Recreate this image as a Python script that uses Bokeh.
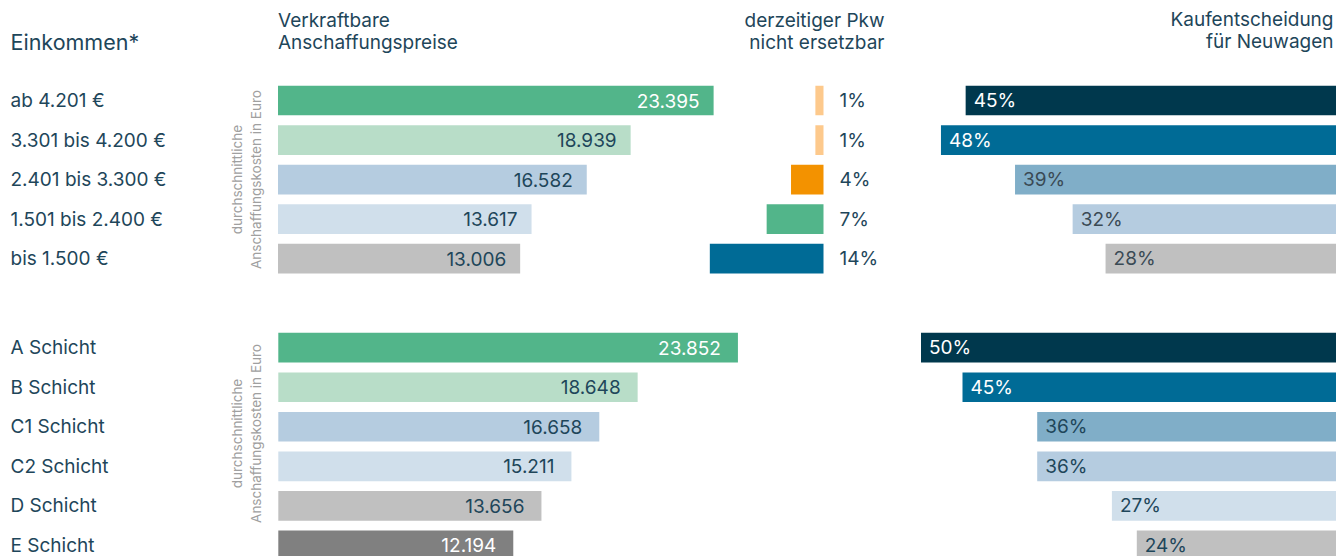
from bokeh.plotting import figure
from bokeh.models import ColumnDataSource, Range1d
from bokeh.core.properties import value
from bokeh.embed import file_html
from bokeh.resources import INLINE
import math

# ---------------- data ----------------
income_labels = ["ab 4.201 €", "3.301 bis 4.200 €", "2.401 bis 3.300 €", "1.501 bis 2.400 €", "bis 1.500 €"]
income_price = [23395, 18939, 16582, 13617, 13006]
income_price_text = ["23.395", "18.939", "16.582", "13.617", "13.006"]
income_pkw = [1, 1, 4, 7, 14]
income_kauf = [45, 48, 39, 32, 28]

layer_labels = ["A Schicht", "B Schicht", "C1 Schicht", "C2 Schicht", "D Schicht", "E Schicht"]
layer_price = [23852, 18648, 16658, 15211, 13656, 12194]
layer_price_text = ["23.852", "18.648", "16.658", "15.211", "13.656", "12.194"]
layer_kauf = [50, 45, 36, 36, 27, 24]

# ---------------- styles ----------------
FONT = value("Inter")
FS = "19px"
TXT = "#1e465a"
GREEN, LGREEN, BGRAY, PALE, GRAY, DGRAY = "#52b58a", "#b8ddc8", "#b5cce0", "#d0dfeb", "#c0c0c0", "#808080"
NAVY, BLUE, MBLUE = "#00384d", "#006b96", "#80aec8"
LORANGE, ORANGE = "#fdc98c", "#f39200"

income_price_colors = [GREEN, LGREEN, BGRAY, PALE, GRAY]
income_price_tcolors = ["white", TXT, TXT, TXT, TXT]
layer_price_colors = [GREEN, LGREEN, BGRAY, PALE, GRAY, DGRAY]
layer_price_tcolors = ["white", TXT, TXT, TXT, TXT, "white"]
pkw_colors = [LORANGE, LORANGE, ORANGE, GREEN, BLUE]
income_kauf_colors = [NAVY, BLUE, MBLUE, BGRAY, GRAY]
income_kauf_tcolors = ["white", "white", "#3a4a55", "#3a4a55", "#3a4a55"]
layer_kauf_colors = [NAVY, BLUE, MBLUE, BGRAY, PALE, GRAY]
layer_kauf_tcolors = ["white", "white", TXT, TXT, TXT, TXT]

# ---------------- layout ----------------
W, H = 1336, 556
ROW0_PX, PITCH = 100.0, 39.55
GROUP2_START = 6.25
BAR_H = 0.75


def py(px):
    return (px - ROW0_PX) / PITCH


p = figure(width=W, height=H, output_backend="svg", toolbar_location=None,
           x_axis_type=None, y_axis_type=None, min_border=0,
           x_range=Range1d(0, W), y_range=Range1d(py(H), py(0)),
           outline_line_color=None, background_fill_color="white")


def lin_range(origin_px, px_per_unit, reverse=False):
    if reverse:
        return Range1d(origin_px / px_per_unit, -(W - origin_px) / px_per_unit)
    return Range1d(-origin_px / px_per_unit, (W - origin_px) / px_per_unit)


p.extra_x_ranges = {
    "price1": lin_range(277.5, 0.01862),
    "price2": lin_range(277.8, 0.01927),
    "pkw": lin_range(823.0, 8.12, reverse=True),
    "kauf1": lin_range(1335.5, 8.23, reverse=True),
    "kauf2": lin_range(1335.5, 8.30, reverse=True),
}

y1 = [float(i) for i in range(len(income_labels))]
y2 = [GROUP2_START + i for i in range(len(layer_labels))]

s_inc = ColumnDataSource(dict(y=y1, label=income_labels, price=income_price, ptext=income_price_text,
                              pcol=income_price_colors, ptcol=income_price_tcolors,
                              pkw=income_pkw, pkwtext=[f"{v}%" for v in income_pkw], pkwcol=pkw_colors,
                              kauf=income_kauf, ktext=[f"{v}%" for v in income_kauf],
                              kcol=income_kauf_colors, ktcol=income_kauf_tcolors))
s_lay = ColumnDataSource(dict(y=y2, label=layer_labels, price=layer_price, ptext=layer_price_text,
                              pcol=layer_price_colors, ptcol=layer_price_tcolors,
                              kauf=layer_kauf, ktext=[f"{v}%" for v in layer_kauf],
                              kcol=layer_kauf_colors, ktcol=layer_kauf_tcolors))

# price bars
for src, rn, off in ((s_inc, "price1", -14), (s_lay, "price2", -17)):
    p.hbar(y="y", left=0, right="price", height=BAR_H, fill_color="pcol", line_color=None,
           x_range_name=rn, source=src)
    p.text(x="price", y="y", text="ptext", x_range_name=rn, source=src, x_offset=off,
           text_align="right", text_baseline="middle", text_font=FONT, text_font_size=FS,
           text_color="ptcol")

# pkw bars
p.hbar(y="y", left=0, right="pkw", height=BAR_H, fill_color="pkwcol", line_color=None,
       x_range_name="pkw", source=s_inc)
p.text(x=839, y="y", text="pkwtext", source=s_inc, text_align="left", text_baseline="middle",
       text_font=FONT, text_font_size=FS, text_color=TXT)

# kauf bars
for src, rn in ((s_inc, "kauf1"), (s_lay, "kauf2")):
    p.hbar(y="y", left=0, right="kauf", height=BAR_H, fill_color="kcol", line_color=None,
           x_range_name=rn, source=src)
    p.text(x="kauf", y="y", text="ktext", x_range_name=rn, source=src, x_offset=8,
           text_align="left", text_baseline="middle", text_font=FONT, text_font_size=FS,
           text_color="ktcol")

# row labels
for src in (s_inc, s_lay):
    p.text(x=10, y="y", text="label", source=src, text_align="left", text_baseline="middle",
           text_font=FONT, text_font_size=FS, text_color=TXT)

# headers
p.text(x=[10], y=[py(41)], text=["Einkommen*"], text_font=FONT, text_font_size="21.5px",
       text_color=TXT, text_align="left", text_baseline="middle")
p.text(x=[277.5, 277.5], y=[py(19.5), py(41.5)], text=["Verkraftbare", "Anschaffungspreise"],
       text_font=FONT, text_font_size=FS, text_color=TXT, text_align="left",
       text_baseline="middle")
p.text(x=[884, 884], y=[py(19.5), py(41.5)], text=["derzeitiger Pkw", "nicht ersetzbar"],
       text_font=FONT, text_font_size=FS, text_color=TXT, text_align="right",
       text_baseline="middle")
p.text(x=[1333, 1333], y=[py(19), py(41)], text=["Kaufentscheidung", "für Neuwagen"],
       text_font=FONT, text_font_size=FS, text_color=TXT, text_align="right",
       text_baseline="middle")

# rotated axis notes
rot_text = "durchschnittliche\nAnschaffungskosten in Euro"
p.text(x=[246, 246], y=[sum(y1) / len(y1), py(433)], text=[rot_text, rot_text], angle=math.pi / 2,
       text_font=FONT, text_font_size="13.5px", text_color="#a0a0a0", text_align="center",
       text_baseline="middle", text_line_height=1.2)

open("out.html", "w").write(file_html(p, INLINE))
